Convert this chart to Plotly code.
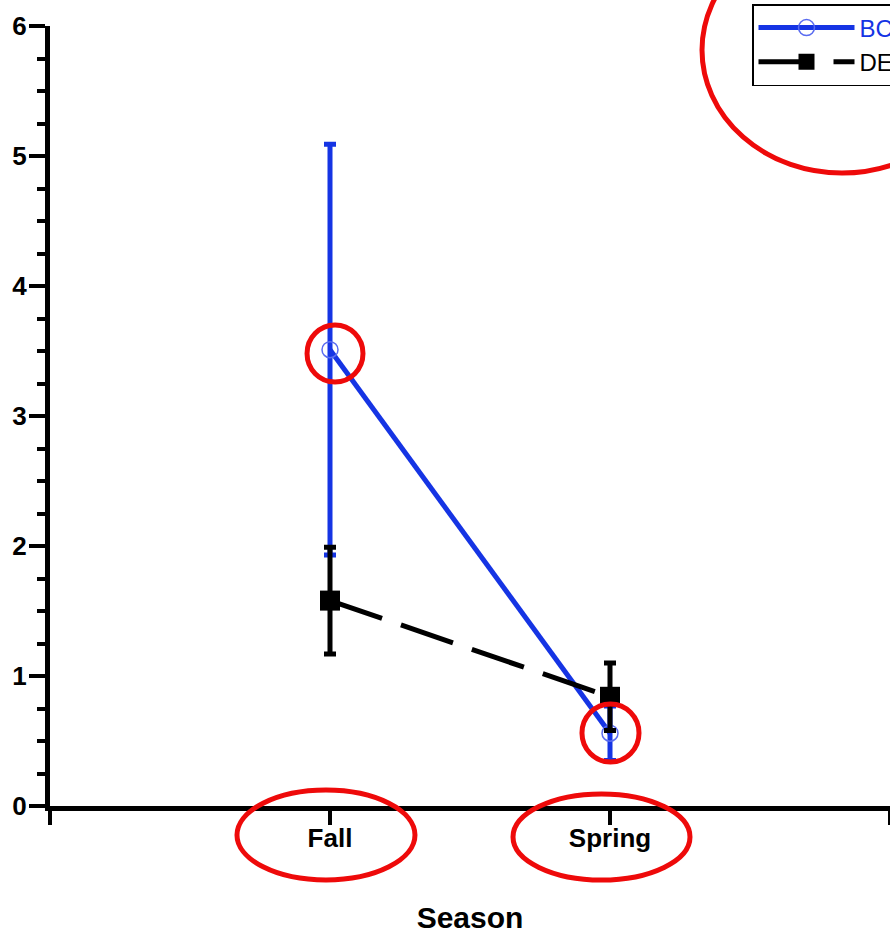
import plotly.graph_objects as go

# ---- data ----
seasons = ["Fall", "Spring"]
season_pos = [1, 2]
bc_mean = [3.51, 0.56]
bc_err = [1.58, 0.21]
de_mean = [1.58, 0.84]
de_err = [0.41, 0.26]
x_tickvals = [0, 1, 2, 3]
x_ticktext = ["", "Fall", "Spring", ""]

BLUE = "#1534e4"
MARKER_BLUE = "#5a6cf0"
RED = "#ee0a0a"
FONT = "Liberation Sans, Arial, sans-serif"

fig = go.Figure()
fig.add_trace(go.Scatter(
    x=season_pos, y=bc_mean, name="<span style='color:#1534e4'>BC</span>",
    mode="lines+markers",
    line=dict(color=BLUE, width=5),
    marker=dict(symbol="circle-open", size=16, color=MARKER_BLUE, line=dict(width=1.5, color=MARKER_BLUE)),
    error_y=dict(type="data", array=bc_err, visible=True, color=BLUE, thickness=5, width=6),
))
fig.add_trace(go.Scatter(
    x=season_pos, y=de_mean, name="DE",
    mode="lines+markers",
    line=dict(color="black", width=5, dash="55px,20px"),
    marker=dict(symbol="square", size=20, color="black"),
    error_y=dict(type="data", array=de_err, visible=True, color="black", thickness=5, width=6),
))

# highlight ellipses (paper coordinates)
highlights = [
    (0.306, 0.5436, 0.3726, 0.6167),
    (0.6333, 0.0564, 0.7012, 0.1308),
    (0.2226, -0.0949, 0.4345, 0.0205),
    (0.5512, -0.0949, 0.7619, 0.0154),
    (0.7762, 0.8115, 1.1095, 1.127),
]
shapes = [dict(type="circle", xref="paper", yref="paper", x0=a, y0=b, x1=c, y1=d,
               line=dict(color=RED, width=5), layer="above") for a, b, c, d in highlights]

fig.update_layout(
    width=890, height=935,
    margin=dict(l=50, r=0, t=26, b=129, autoexpand=False),
    plot_bgcolor="white", paper_bgcolor="white",
    font=dict(family=FONT, color="black"),
    showlegend=True,
    legend=dict(x=(752 - 50) / 840, y=(806 - 4) / 780, xanchor="left", yanchor="top",
                bordercolor="black", borderwidth=1.5, bgcolor="white",
                font=dict(size=24, family=FONT, color="black"),
                itemwidth=96, tracegroupgap=0),
    shapes=shapes,
)
fig.update_xaxes(
    range=[0, 3], tickvals=x_tickvals, ticktext=x_ticktext,
    showline=True, linewidth=5, linecolor="black",
    ticks="outside", ticklen=14, tickwidth=4, tickcolor="black",
    showgrid=False, zeroline=False, ticklabelstandoff=-9,
    tickfont=dict(size=26, family=FONT, color="black", weight="bold"),
    title=dict(text="<b>Season</b>", font=dict(size=30, family=FONT), standoff=56),
)
fig.update_yaxes(
    range=[0, 6], dtick=1, tick0=0,
    showline=True, linewidth=5, linecolor="black",
    ticks="outside", ticklen=16, tickwidth=4, tickcolor="black",
    minor=dict(dtick=0.25, ticks="outside", ticklen=8, tickwidth=4, tickcolor="black", showgrid=False),
    showgrid=False, zeroline=False, ticklabelstandoff=-3,
    tickfont=dict(size=26, family=FONT, color="black", weight="bold"),
)

fig.write_html("out.html", config={"displayModeBar": False},
               post_script="document.body.style.margin='0';document.body.style.overflow='hidden';")
